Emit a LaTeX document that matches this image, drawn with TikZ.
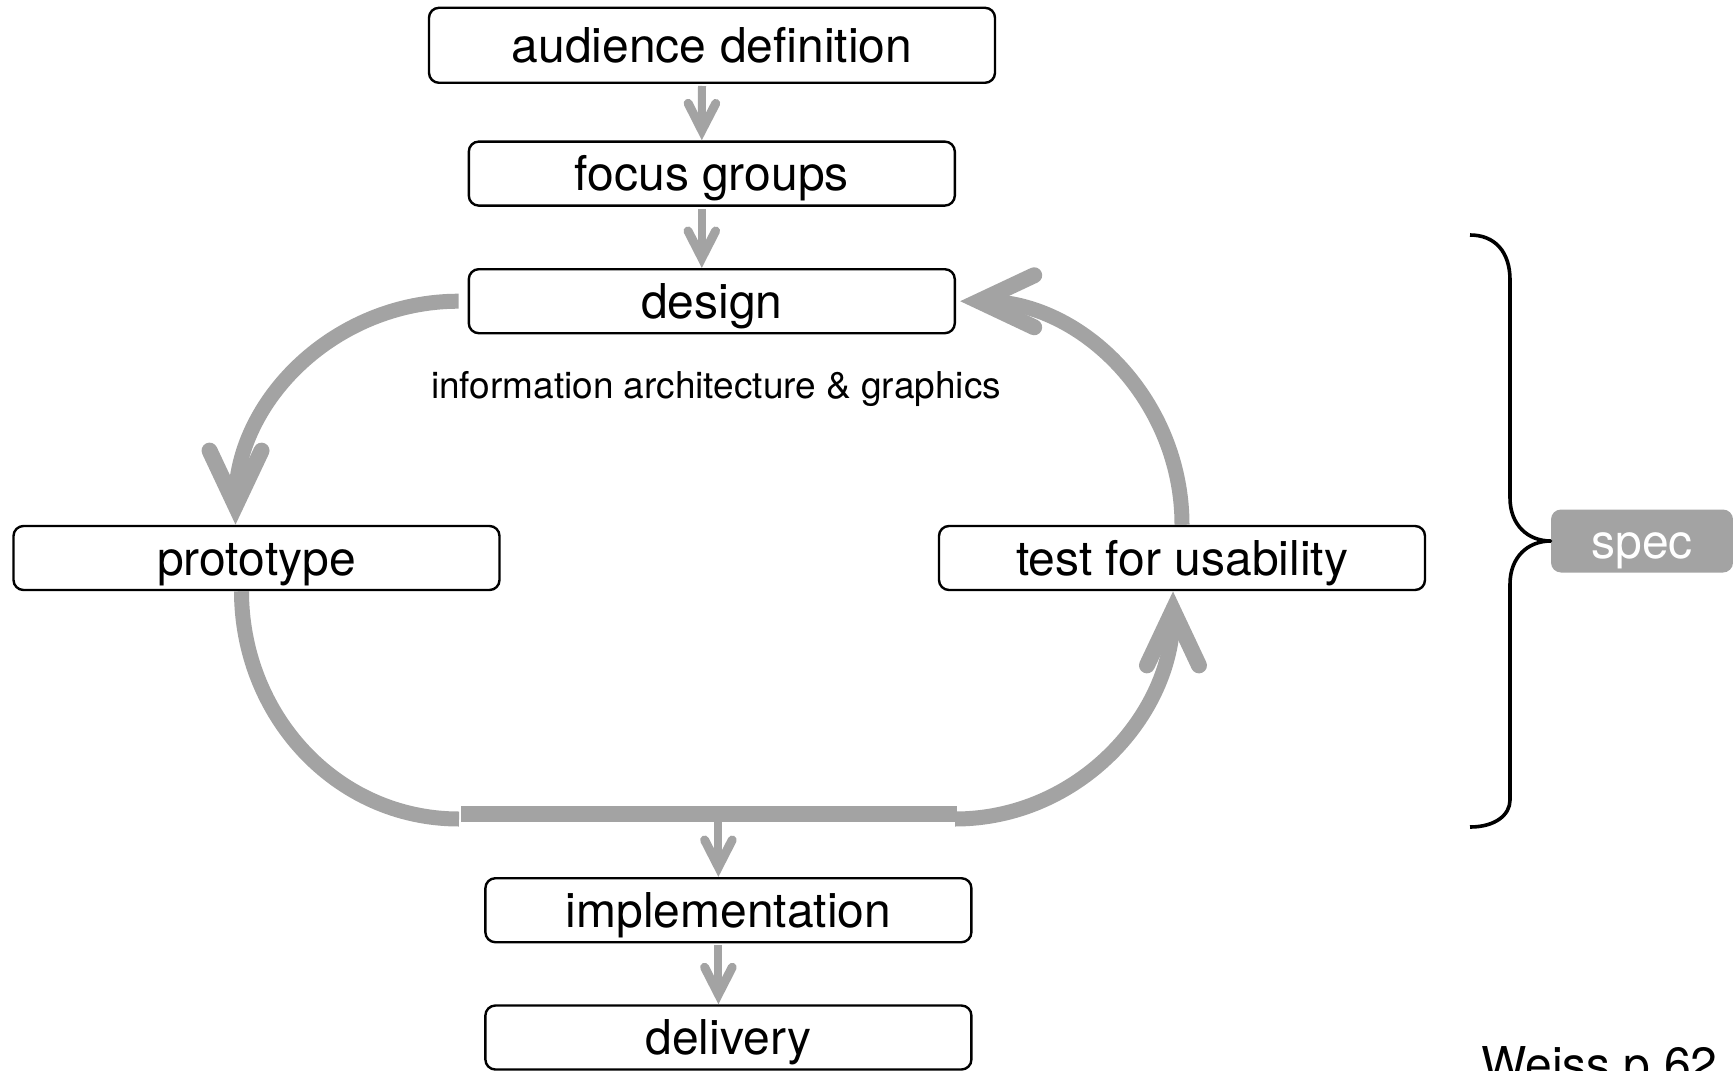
\documentclass[tikz,border=0pt]{standalone}
\usepackage{fontspec}
\setmainfont{TeX Gyre Heros}
\usetikzlibrary{decorations.markings}
\definecolor{arrowgray}{HTML}{A3A3A3}
\newcommand\boxfont{\fontsize{24pt}{28pt}\selectfont}
\newcommand\infofont{\fontsize{18.5pt}{22pt}\selectfont}
\begin{document}
\begin{tikzpicture}[x=0.5pt,y=-0.5pt,
  box/.style={draw=black, line width=1.2pt, rounded corners=5pt, fill=white,
    inner sep=0pt, minimum width=243pt, minimum height=32pt, font=\boxfont,
    text height=17.3pt, text depth=0pt},
  smallflow/.style={draw=arrowgray, line width=4pt},
  bigflow/.style={draw=arrowgray, line width=7.5pt},
  headsmall/.style={shorten >=6pt, postaction={decorate},
    decoration={markings, mark=at position 0.9995 with {\draw[arrowgray, line width=4.5pt,
      line cap=round, line join=miter, shorten >=0pt, shorten <=0pt]
      (-18.5pt,6.9pt) -- (-5pt,0pt) -- (-18.5pt,-6.9pt);}}},
  headbig/.style={shorten >=12pt, postaction={decorate},
    decoration={markings, mark=at position 0.9995 with {\draw[arrowgray, line width=8pt,
      line cap=round, line join=miter, shorten >=0pt, shorten <=0pt]
      (-37pt,13pt) -- (-9.4pt,0pt) -- (-37pt,-13pt);}}},
  bracepath/.style={draw=black, line width=1.8pt, line join=round, line cap=butt}
]
\useasboundingbox (0,0) rectangle (1733,1070);

% boxes
\node[box, minimum width=283pt, minimum height=37.5pt] (aud) at (712,45.3) {audience definition};
\node[box] (focus) at (711.8,173.6) {focus groups};
\node[box] (design) at (711.8,301.2) {design};
\node[font=\infofont, inner sep=0pt, anchor=base] (info) at (716,398) {information architecture \& graphics};
\node[box] (proto) at (256.5,558) {prototype};
\node[box] (test) at (1182,558) {test for usability};
\node[box] (impl) at (728.4,910.2) {implementation};
\node[box] (deliv) at (728.4,1037.5) {delivery};
\node[fill=arrowgray, rounded corners=5pt, minimum width=91pt, minimum height=31.5pt,
  inner sep=0pt, text=white, font=\boxfont, text height=17.3pt, text depth=0pt] (spec) at (1642,541) {spec};
\node[font=\boxfont, anchor=base west, inner sep=0pt] (weiss) at (1481,1081) {Weiss p.62};

% small straight arrows
\draw[smallflow, headsmall, shorten <=1pt] ([xshift=-5pt]aud.south) -- ([xshift=-5pt]focus.north);
\draw[smallflow, headsmall, shorten <=1pt] ([xshift=-5pt]focus.south) -- ([xshift=-5pt]design.north);

% loop
\coordinate (dStart) at ([xshift=-4.5pt]design.west);
\coordinate (pTip) at ([xshift=-10.5pt]proto.north);
\coordinate (dTip) at ([xshift=2pt]design.east);
\coordinate (pBot) at ([xshift=-7.5pt]proto.south);
\coordinate (tTip) at ([xshift=-4.5pt]test.south);
\coordinate (cL) at (459,819);
\coordinate (cR) at (955,819);
\coordinate (barL) at (461,814);
\coordinate (barR) at (957,814);

\draw[bigflow, headbig] (dStart) to[out=180, in=90] (pTip);
\draw[bigflow, headbig] (test.north) to[out=90, in=0] (dTip);
\draw[bigflow] (pBot) to[out=-90, in=180] (cL);
\draw[draw=arrowgray, line width=8pt] (barL) -- (barR);
\draw[bigflow, headbig] (cR) to[out=0, in=-90] (tTip);

% bottom arrows
\coordinate (iTop) at ([xshift=-5pt]impl.north);
\draw[smallflow, headsmall] (iTop |- barL) -- (iTop);
\draw[smallflow, headsmall, shorten <=1pt] ([xshift=-5pt]impl.south) -- ([xshift=-5pt]deliv.north);

% brace
\draw[bracepath] (1470,235) .. controls (1495,235) and (1510,252) .. (1510,280)
  -- (1510,498) .. controls (1510,525) and (1528,541) .. (spec.west)
  .. controls (1528,541) and (1510,557) .. (1510,584)
  -- (1510,800) .. controls (1510,815) and (1495,827) .. (1470,827);
\end{tikzpicture}
\end{document}
